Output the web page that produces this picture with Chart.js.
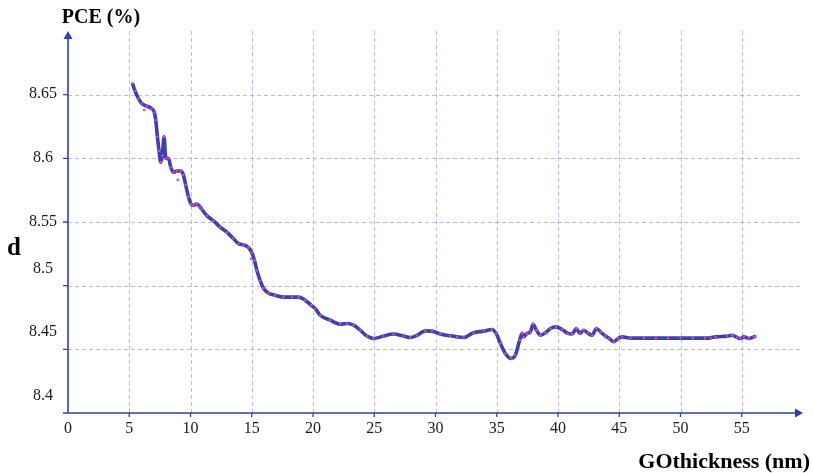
<!DOCTYPE html>
<html>
<head>
<meta charset="utf-8">
<script src="https://cdn.jsdelivr.net/npm/chart.js@4"></script>
<style>
  html, body { margin: 0; padding: 0; background: #ffffff; }
  #wrap { width: 813px; height: 473px; }
</style>
</head>
<body>
<div id="wrap"><canvas id="c" width="813" height="473"></canvas></div>
<script>
// GO layer thickness (nm) and the resulting PCE (%)
const thickness = [
  5.25, 5.47, 5.75, 6.02, 6.43, 6.84, 7.05, 7.16, 7.30, 7.43, 7.57, 7.70, 7.84, 7.98,
  8.20, 8.39, 8.61, 8.88, 9.20, 9.42, 9.61, 9.83, 10.05, 10.24, 10.51, 10.78, 10.92,
  11.33, 11.87, 12.42, 12.97, 13.50, 13.92, 14.33, 14.73, 15.00, 15.22, 15.42, 15.69,
  15.96, 16.37, 16.91, 17.59, 18.27, 18.82, 19.36, 19.85, 20.18, 20.59, 21.40, 22.22,
  22.77, 23.31, 23.86, 24.40, 24.95, 25.76, 26.58, 27.39, 27.94, 28.49, 29.17, 29.71,
  30.39, 31.20, 31.76, 32.30, 33.10, 33.93, 34.60, 34.95, 35.30, 35.70, 36.17, 36.52,
  36.87, 37.07, 37.20, 37.47, 37.75, 37.96, 38.24, 38.56, 38.97, 39.38, 39.84, 40.33,
  40.80, 41.15, 41.50, 41.78, 42.10, 42.46, 42.79, 43.14, 43.46, 43.87, 44.20, 44.55,
  44.90, 45.24, 45.92, 47.00, 48.00, 49.00, 50.00, 51.00, 52.00, 52.45, 52.86, 53.81,
  54.22, 54.63, 54.90, 55.17, 55.58, 55.99, 56.13
];
const pce = [
  8.659, 8.653, 8.647, 8.643, 8.641, 8.639, 8.636, 8.630, 8.617, 8.606, 8.597, 8.602, 8.617, 8.600,
  8.600, 8.593, 8.589, 8.590, 8.590, 8.587, 8.579, 8.570, 8.564, 8.563, 8.564, 8.562, 8.560,
  8.555, 8.551, 8.546, 8.542, 8.537, 8.533, 8.532, 8.530, 8.526, 8.520, 8.512, 8.504,
  8.498, 8.494, 8.4925, 8.491, 8.491, 8.491, 8.4886, 8.4846, 8.482, 8.4768, 8.4729, 8.4697,
  8.4703, 8.469, 8.465, 8.4604, 8.4585, 8.4604, 8.462, 8.4604, 8.4593, 8.461, 8.4645, 8.4643,
  8.462, 8.4606, 8.4598, 8.4593, 8.463, 8.4643, 8.4656, 8.4625, 8.4546, 8.4468, 8.4429, 8.4455,
  8.4572, 8.4625, 8.4598, 8.4625, 8.4637, 8.4697, 8.465, 8.4611, 8.4629, 8.4664, 8.4676, 8.4656,
  8.4625, 8.462, 8.4664, 8.4625, 8.465, 8.4625, 8.4611, 8.4664, 8.4637, 8.4605, 8.4585, 8.4559,
  8.4585, 8.4598, 8.4588, 8.4588, 8.4588, 8.4588, 8.4588, 8.4588, 8.4588, 8.4590, 8.4598, 8.4604,
  8.4611, 8.4593, 8.4585, 8.4598, 8.4585, 8.4598, 8.4604
];
// scattered raw samples lying off the fitted curve
const strayThickness = [6.21, 8.96, 14.95];
const strayPce = [8.638, 8.583, 8.521];

// axis ticks
const xTickValues = [0, 5, 10, 15, 20, 25, 30, 35, 40, 45, 50, 55];
const xTickLabels = ['0', '5', '10', '15', '20', '25', '30', '35', '40', '45', '50', '55'];
const yTickValues = [8.4, 8.45, 8.5, 8.55, 8.6, 8.65];
const yTickLabels = ['8.4', '8.45', '8.5', '8.55', '8.6', '8.65'];

const AXIS_COLOR = 'rgb(48,66,162)';
const GRID_COLOR = 'rgba(140,140,228,0.6)';
const SERIF = '"Liberation Serif", "Times New Roman", serif';

const framePlugin = {
  id: 'frame',
  beforeDatasetsDraw(chart) {
    const { ctx, chartArea: a, scales: { x, y } } = chart;
    ctx.save();
    ctx.strokeStyle = GRID_COLOR;
    ctx.lineWidth = 1;
    ctx.setLineDash([4, 3]);
    xTickValues.forEach(v => {
      if (v === 0) return;
      const px = Math.round(x.getPixelForValue(v)) + 0.5;
      ctx.beginPath(); ctx.moveTo(px, a.top); ctx.lineTo(px, a.bottom); ctx.stroke();
    });
    yTickValues.forEach(v => {
      if (v === 8.4) return;
      const py = Math.round(y.getPixelForValue(v)) + 0.5;
      ctx.beginPath(); ctx.moveTo(a.left, py); ctx.lineTo(a.right - 3, py); ctx.stroke();
    });
    ctx.restore();
  },
  afterDatasetsDraw(chart, args, opts) {
    const { ctx, chartArea: a, scales: { x, y } } = chart;
    ctx.save();
    ctx.setLineDash([]);
    ctx.strokeStyle = AXIS_COLOR;
    ctx.fillStyle = AXIS_COLOR;
    ctx.lineWidth = 1.6;
    // axis lines
    ctx.beginPath();
    ctx.moveTo(a.left, a.bottom); ctx.lineTo(a.left, a.top + 6);
    ctx.moveTo(a.left, a.bottom); ctx.lineTo(a.right - 6, a.bottom);
    ctx.stroke();
    // arrow heads
    ctx.beginPath();
    ctx.moveTo(a.left, a.top); ctx.lineTo(a.left - 4.5, a.top + 8); ctx.lineTo(a.left + 4.5, a.top + 8); ctx.closePath();
    ctx.fill();
    ctx.beginPath();
    ctx.moveTo(a.right, a.bottom); ctx.lineTo(a.right - 8, a.bottom - 4.5); ctx.lineTo(a.right - 8, a.bottom + 4.5); ctx.closePath();
    ctx.fill();
    // tick marks
    ctx.lineWidth = 1.3;
    ctx.beginPath();
    xTickValues.forEach(v => {
      if (v === 0) return;
      const px = x.getPixelForValue(v);
      ctx.moveTo(px, a.bottom); ctx.lineTo(px, a.bottom + 4);
    });
    yTickValues.forEach(v => {
      const py = y.getPixelForValue(v);
      ctx.moveTo(a.left - 5, py); ctx.lineTo(a.left, py);
    });
    ctx.stroke();

    // tick labels
    ctx.fillStyle = '#1a1a1a';
    ctx.font = '16px ' + SERIF;
    ctx.textAlign = 'center';
    ctx.textBaseline = 'alphabetic';
    xTickValues.forEach((v, i) => {
      ctx.fillText(xTickLabels[i], x.getPixelForValue(v), a.bottom + 20);
    });
    yTickValues.forEach((v, i) => {
      ctx.fillText(yTickLabels[i], opts.yLabelX, y.getPixelForValue(v) + opts.yLabelShift[i]);
    });

    // axis titles
    ctx.fillStyle = '#000000';
    ctx.font = 'bold 20px ' + SERIF;
    ctx.textAlign = 'center';
    ctx.fillText('PCE (%)', 101, 23);
    ctx.font = 'bold 25px ' + SERIF;
    ctx.textAlign = 'left';
    ctx.fillText('d', 7, 255);
    ctx.font = 'bold 22px ' + SERIF;
    ctx.textAlign = 'right';
    ctx.fillText('GOthickness (nm)', 810, 468);
    ctx.restore();
  }
};

new Chart(document.getElementById('c'), {
  type: 'line',
  data: {
    datasets: [
      {
        data: thickness.map((t, i) => ({ x: t, y: pce[i] })),
        borderColor: 'rgb(60,66,170)',
        borderWidth: 3.6,
        cubicInterpolationMode: 'monotone',
        pointRadius: 1.2,
        pointBorderWidth: 0,
        pointBackgroundColor: 'rgb(226,70,190)',
        fill: false
      },
      {
        data: strayThickness.map((t, i) => ({ x: t, y: strayPce[i] })),
        showLine: false,
        pointRadius: 1.4,
        pointBorderWidth: 0,
        pointBackgroundColor: 'rgb(226,90,200)'
      }
    ]
  },
  options: {
    responsive: false,
    animation: false,
    events: [],
    layout: { padding: { left: 68, right: 10, top: 31, bottom: 60 } },
    scales: {
      x: { type: 'linear', min: 0, max: 60, display: false },
      y: { type: 'linear', min: 8.4, max: 8.7, display: false }
    },
    plugins: {
      legend: { display: false },
      tooltip: { enabled: false },
      frame: {
        yLabelX: 43,
        yLabelShift: [-13, -13, -13, 4, 4, 3]
      }
    }
  },
  plugins: [framePlugin]
});
</script>
</body>
</html>
